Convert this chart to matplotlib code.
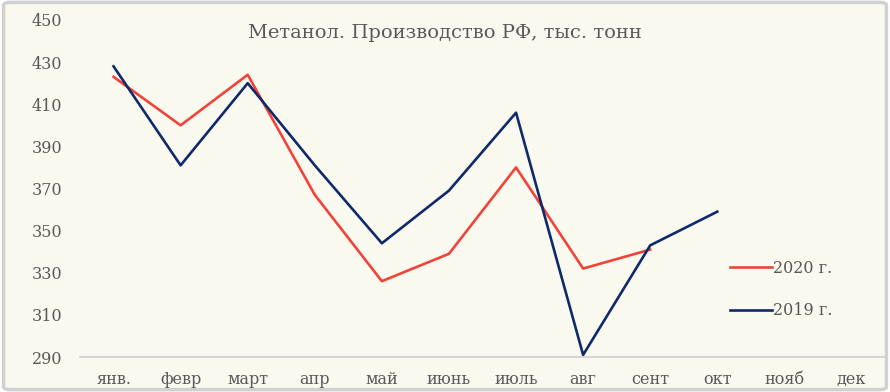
import matplotlib
matplotlib.use('Agg')
import matplotlib.pyplot as plt
from matplotlib.patches import FancyBboxPatch

months = ['янв.', 'февр', 'март', 'апр', 'май', 'июнь', 'июль',
          'авг', 'сент', 'окт', 'нояб', 'дек']
prod_2020 = [423, 400, 424, 367, 326, 339, 380, 332, 341]
prod_2019 = [428, 381, 420, 381, 344, 369, 406, 291, 343, 359]
y_ticks = [290, 310, 330, 350, 370, 390, 410, 430, 450]

plt.rcParams['font.family'] = ['DejaVu Serif']
bg = '#FAF9EF'
txt = '#595959'

fig = plt.figure(figsize=(8.9, 3.92), dpi=100)
fig.patch.set_facecolor('white')
# outer frame of the chart, kept behind the axes
frame = FancyBboxPatch((0.004, 0.006), 0.992, 0.988,
                       boxstyle='round,pad=0,rounding_size=0.008',
                       transform=fig.transFigure, facecolor=bg,
                       edgecolor='#D0D0D0', linewidth=2.5, zorder=-10)
fig.patches.append(frame)

ax = fig.add_axes([80 / 890, 35 / 392, 805 / 890, 337 / 392])
ax.set_facecolor('none')

x = list(range(len(months)))
ax.plot(x[:len(prod_2020)], prod_2020, color='#F0443A', lw=1.9, label='2020 г.')
ax.plot(x[:len(prod_2019)], prod_2019, color='#0F2A6B', lw=1.9, label='2019 г.')

ax.set_xlim(-0.5, len(months) - 0.5)
ax.set_ylim(290, 450)
ax.set_xticks(x)
ax.set_xticklabels(months)
ax.set_yticks(y_ticks)
ax.tick_params(length=0, colors=txt, labelsize=11.5)
ax.tick_params(axis='y', pad=13)
ax.tick_params(axis='x', pad=10)
for s in ['top', 'right', 'left']:
    ax.spines[s].set_visible(False)
ax.spines['bottom'].set_color('#D0D0D0')
ax.spines['bottom'].set_linewidth(1.2)

fig.text(0.5, 0.915, 'Метанол. Производство РФ, тыс. тонн', color=txt,
         fontsize=14, ha='center', va='center')

ax.legend(loc='center left', bbox_to_anchor=(0.79, 0.2), frameon=False,
          fontsize=11.5, labelcolor=txt, handlelength=2.6, handletextpad=0.1,
          labelspacing=1.6)

fig.savefig('out.png', dpi=100, facecolor=fig.get_facecolor())
